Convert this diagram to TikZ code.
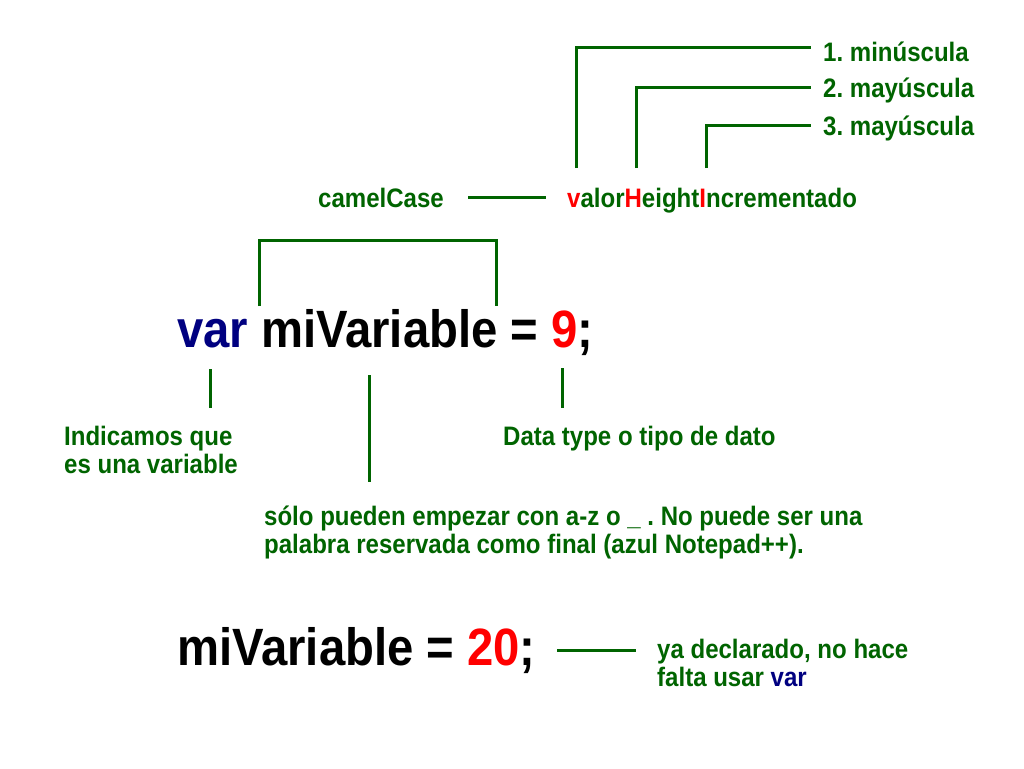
\documentclass[tikz,border=0pt]{standalone}
\usepackage{fontspec}
\newfontfamily\cf{Liberation Sans}[FakeStretch=0.9]
\definecolor{dg}{RGB}{0,100,0}
\definecolor{navyb}{RGB}{0,0,128}
\definecolor{rd}{RGB}{255,0,0}
\frenchspacing
\tikzset{
  small/.style={inner sep=0pt, anchor=base west, text=dg, font=\cf\bfseries\frenchspacing\fontsize{26.7}{28.5}\selectfont},
  big/.style={inner sep=0pt, anchor=base west, text=black, font=\cf\bfseries\fontsize{52.5}{56}\selectfont},
  ln/.style={draw=dg, line width=3pt}
}
\begin{document}
\begin{tikzpicture}[x=1pt,y=-1pt]
\fill[white] (0,0) rectangle (1024,768);
\useasboundingbox (0,0) rectangle (1024,768);
% top labels
\node[small] (m1) at (823,61) {1. minúscula};
\node[small] (m2) at (823,97) {2. mayúscula};
\node[small] (m3) at (823,135) {3. mayúscula};
\node[small] (cc) at (318,207) {camelCase};
\node[small] (vh) at (567,207) {{\color{rd}v}alor{\color{rd}H}eight{\color{rd}I}ncrementado};
\coordinate (a1) at (576,168);
\coordinate (a2) at (636,168);
\coordinate (a3) at (706,168);
\coordinate (b1) at (811,48);
\coordinate (b2) at (811,87);
\coordinate (b3) at (811,125);
\draw[ln] (a1) |- (b1);
\draw[ln] (a2) |- (b2);
\draw[ln] (a3) |- (b3);
\coordinate (ccl) at (468,197);
\coordinate (ccr) at (546,197);
\draw[ln] (ccl) -- (ccr);
% main statement
\node[big] (st) at (177,347) {{\color{navyb}var} miVariable = {\color{rd}9};};
\coordinate (br1) at (259,306);
\coordinate (br2) at (259,240);
\coordinate (br3) at (496,240);
\coordinate (br4) at (496,306);
\draw[ln] (br1) -- (br2) -- (br3) -- (br4);
\coordinate (l1a) at (210,369);
\coordinate (l1b) at (210,408);
\coordinate (l2a) at (369,375);
\coordinate (l2b) at (369,482);
\coordinate (l3a) at (562,368);
\coordinate (l3b) at (562,408);
\draw[ln] (l1a) -- (l1b);
\draw[ln] (l2a) -- (l2b);
\draw[ln] (l3a) -- (l3b);
\node[small] (i1) at (64,445) {Indicamos que};
\node[small] (i2) at (64,473) {es una variable};
\node[small] (dt) at (503,445) {Data type o tipo de dato};
\node[small] (s1) at (264,525) {sólo pueden empezar con a-z o \_ . No puede ser una};
\node[small] (s2) at (264,553) {palabra reservada como final (azul Notepad++).};
% second statement
\node[big] (st2) at (177,665) {miVariable = {\color{rd}20};};
\coordinate (dl) at (557,650);
\coordinate (dr) at (636,650);
\draw[ln] (dl) -- (dr);
\node[small] (y1) at (657,658) {ya declarado, no hace};
\node[small] (y2) at (657,686) {falta usar {\color{navyb}var}};
\end{tikzpicture}
\end{document}
